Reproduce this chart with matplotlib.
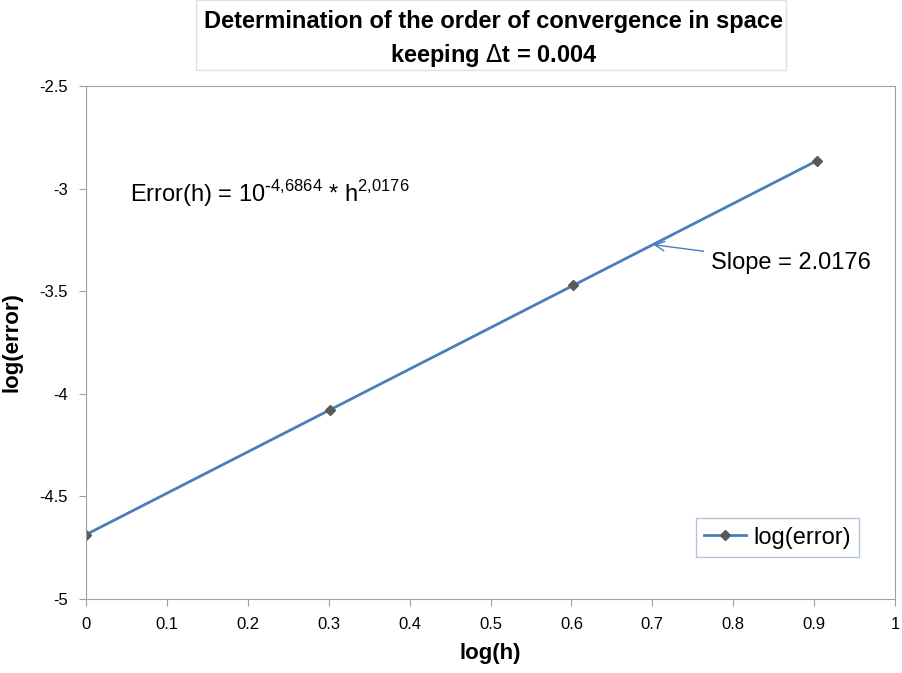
import matplotlib
matplotlib.use("Agg")
from matplotlib import pyplot as plt
from matplotlib.patches import Rectangle

plt.rcParams['font.family'] = ['Liberation Sans Narrow', 'Liberation Sans', 'DejaVu Sans']

log_h = [0.0, 0.30103, 0.60206, 0.90309]
log_err = [-4.6864, -4.0791, -3.4717, -2.8643]
x_ticks = [0, 0.1, 0.2, 0.3, 0.4, 0.5, 0.6, 0.7, 0.8, 0.9, 1]
y_ticks = [-5, -4.5, -4, -3.5, -3, -2.5]

fig = plt.figure(figsize=(9.02, 6.73), dpi=100)
ax = fig.add_axes([0.0953, 0.110, 0.897, 0.762])

ax.plot(log_h, log_err, color='#4a7ebb', lw=2, marker='D', ms=5,
        mfc='#595959', mec='#595959', label='log(error)')

ax.set_xlim(0, 1)
ax.set_ylim(-5, -2.5)
ax.set_xticks(x_ticks)
ax.set_xticklabels([str(t) for t in x_ticks])
ax.set_yticks(y_ticks)
ax.set_yticklabels([str(t) for t in y_ticks])
ax.tick_params(direction='out', length=5, color='#a0a0a0', labelsize=12, pad=8)
for s in ax.spines.values():
    s.set_color('#a0a0a0')

ax.set_xlabel('log(h)', fontsize=16, fontweight='bold', labelpad=8)
ax.set_ylabel('log(error)', fontsize=16, fontweight='bold', labelpad=12)

ax.text(0.054, -3.026,
        r'Error(h) = 10$^{\mathregular{\text{-}4{,}6864}}$ * h$^{\mathregular{2{,}0176}}$',
        fontsize=17, va='center')
ax.annotate('Slope = 2.0176', xy=(0.7015, -3.273), xytext=(0.772, -3.36),
            fontsize=17, va='center',
            arrowprops=dict(arrowstyle='->', color='#4a7ebb', lw=1,
                            shrinkA=3, shrinkB=0))

leg = ax.legend(loc='lower right', bbox_to_anchor=(0.956, 0.082), fontsize=17,
                fancybox=False, handlelength=1.8, handletextpad=0.3,
                borderpad=0.35, borderaxespad=0)
leg.get_frame().set_edgecolor('#a0b4d0')

fig.patches.append(Rectangle((196 / 902, 1 - 70 / 673), 590 / 902, 70 / 673,
                             transform=fig.transFigure, fill=False,
                             edgecolor='#e0e0e0', lw=1))
fig.text(0.547, 0.968, 'Determination of the order of convergence in space',
         ha='center', va='center', fontsize=17, fontweight='bold')
fig.text(0.547, 0.918, r'keeping $\Delta$t = 0.004',
         ha='center', va='center', fontsize=17, fontweight='bold')

fig.savefig('out.png', dpi=100)
